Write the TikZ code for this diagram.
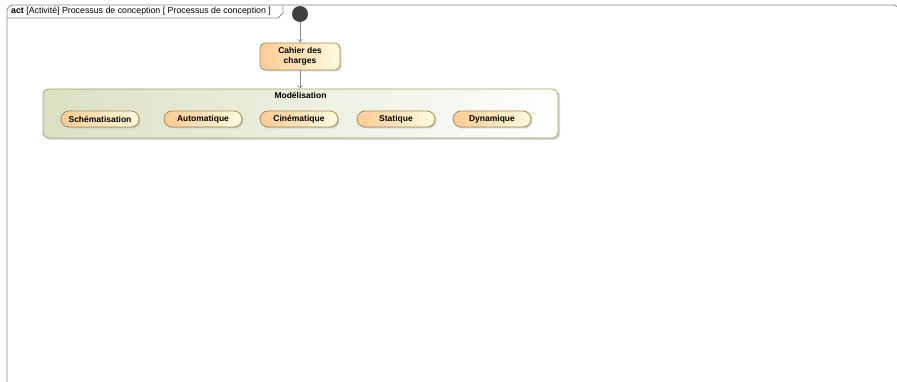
\documentclass[tikz,border=0pt]{standalone}
\usepackage{fontspec}
\setmainfont{Liberation Sans}
\usetikzlibrary{positioning,shapes.misc,arrows.meta,shadows}

\definecolor{actorange}{HTML}{FDCB94}
\definecolor{actyellow}{HTML}{FFFBDF}
\definecolor{actborder}{HTML}{A08F5A}
\definecolor{grpgreen}{HTML}{DCE0C2}
\definecolor{grpborder}{HTML}{A3A36A}
\definecolor{framegray}{HTML}{8A8A8A}

\tikzset{
  action/.style={rounded rectangle, draw=actborder, line width=0.8pt,
    left color=actorange, right color=actyellow,
    minimum width=80pt, minimum height=16pt, inner sep=1pt,
    font=\fontsize{8.5}{9}\selectfont\bfseries,
    drop shadow={shadow xshift=1.5pt, shadow yshift=-1.5pt, fill=black!30}},
  flow/.style={->, draw=framegray, line width=0.6pt,
    >={Straight Barb[length=3pt,width=5pt]}}
}

\begin{document}
\begin{tikzpicture}[x=1pt,y=1pt]
\useasboundingbox (0,0) rectangle (897,-382);
\clip (0,0) rectangle (897,-382);

% activity frame and its tab
\draw[framegray, line width=0.8pt, rounded corners=6pt]
  (7,-400) -- (7,-5) -- (899,-5) -- (899,-400);
\draw[framegray, line width=0.8pt] (7,-18) -- (278,-18) -- (283,-13) -- (283,-5);
\node[anchor=west, inner sep=0pt, font=\fontsize{8.8}{10}\selectfont] (title) at (11,-11.5)
  {\textbf{act} [Activité] Processus de conception [ Processus de conception ]};

% start
\node[circle, fill=black!75, minimum size=16pt, inner sep=0pt] (init) at (300,-14) {};

\node[rectangle, rounded corners=5pt, draw=actborder, line width=0.8pt,
  left color=actorange, right color=actyellow,
  minimum width=80pt, minimum height=27pt, inner sep=1pt, align=center,
  font=\fontsize{8.5}{10}\selectfont\bfseries,
  drop shadow={shadow xshift=1.5pt, shadow yshift=-1.5pt, fill=black!30}]
  (cdc) at (300,-56.5) {Cahier des\\charges};

% group of modelling activities
\node[rectangle, rounded corners=6pt, draw=grpborder, line width=0.8pt,
  left color=grpgreen, right color=white!97!grpgreen,
  minimum width=515pt, minimum height=49pt,
  drop shadow={shadow xshift=2pt, shadow yshift=-2pt, fill=black!30}]
  (model) at (300.5,-113.5) {};
\node[below=2pt of model.north, font=\fontsize{8.5}{9}\selectfont\bfseries, inner sep=1pt] (modlabel) {Modélisation};

\node[action] (schema) at (100,-119) {Schématisation};
\node[action] (auto) at (203,-119) {Automatique};
\node[action] (cine) at (299,-119) {Cinématique};
\node[action] (stat) at (396,-119) {Statique};
\node[action] (dyna) at (492,-119) {Dynamique};

\draw[flow] (init) -- (cdc);
\draw[flow] (cdc) -- (model.north -| cdc.south);

\end{tikzpicture}
\end{document}
